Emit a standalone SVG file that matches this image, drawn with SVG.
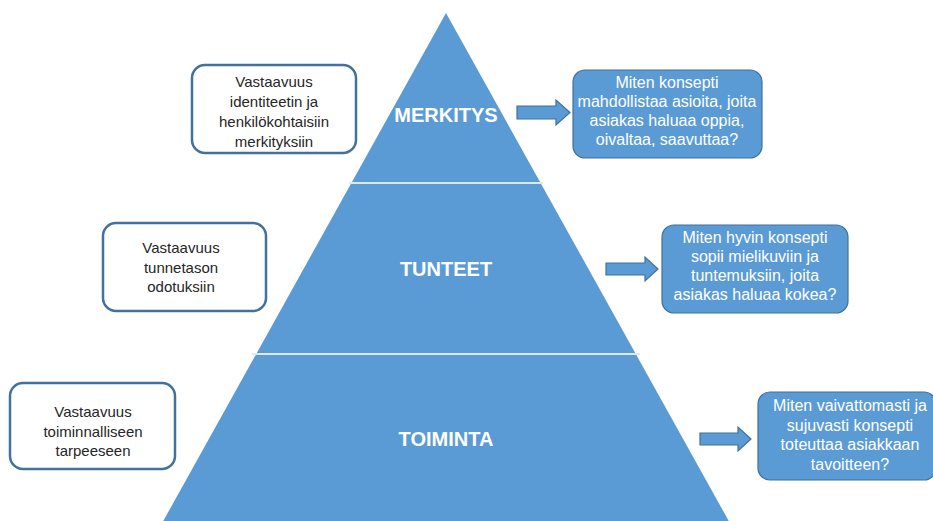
<svg xmlns="http://www.w3.org/2000/svg" width="933" height="521" viewBox="0 0 933 521">
<style>
.tier{fill:#5B9BD5;}
.div{stroke:#DCE9F5;stroke-width:2;}
.tl{font-family:"Liberation Sans",Arial,sans-serif;font-weight:bold;font-size:20px;fill:#FFFFFF;text-anchor:middle;}
.lb{fill:#FFFFFF;stroke:#41719C;stroke-width:2.5;}
.lt{font-family:"Liberation Sans",Arial,sans-serif;font-size:15px;fill:#262626;text-anchor:middle;}
.rb{fill:#5B9BD5;stroke:#41719C;stroke-width:1.2;}
.rt{font-family:"Liberation Sans",Arial,sans-serif;font-size:16px;fill:#FFFFFF;text-anchor:middle;}
.ar{fill:#5B9BD5;stroke:#41719C;stroke-width:1.2;}
</style>
<rect width="933" height="521" fill="#FFFFFF"/>
<g id="pyramid">
<polygon class="tier" points="446,13 736,534 156,534"/>
<line class="div" x1="349" y1="183" x2="543" y2="183"/>
<line class="div" x1="252" y1="354" x2="640" y2="354"/>
</g>
<g id="merkitys"><text class="tl" x="446" y="122">MERKITYS</text></g>
<g id="tunteet"><text class="tl" x="446" y="276">TUNTEET</text></g>
<g id="toiminta"><text class="tl" x="446" y="446">TOIMINTA</text></g>
<g id="left1">
<rect class="lb" x="192" y="65" width="164" height="88" rx="13"/>
<text class="lt" x="274" y="87">Vastaavuus</text>
<text class="lt" x="274" y="107">identiteetin ja</text>
<text class="lt" x="274" y="127">henkilökohtaisiin</text>
<text class="lt" x="274" y="147">merkityksiin</text>
</g>
<g id="left2">
<rect class="lb" x="103" y="223" width="163" height="88" rx="13"/>
<text class="lt" x="181" y="253">Vastaavuus</text>
<text class="lt" x="181" y="273">tunnetason</text>
<text class="lt" x="181" y="292">odotuksiin</text>
</g>
<g id="left3">
<rect class="lb" x="10" y="383" width="165" height="86" rx="13"/>
<text class="lt" x="93" y="417">Vastaavuus</text>
<text class="lt" x="93" y="437">toiminnalliseen</text>
<text class="lt" x="93" y="456">tarpeeseen</text>
</g>
<g id="right1">
<rect class="rb" x="573" y="70" width="189" height="88" rx="12"/>
<text class="rt" x="667" y="88">Miten konsepti</text>
<text class="rt" x="667" y="107">mahdollistaa asioita, joita</text>
<text class="rt" x="667" y="126">asiakas haluaa oppia,</text>
<text class="rt" x="667" y="145">oivaltaa, saavuttaa?</text>
</g>
<g id="right2">
<rect class="rb" x="662" y="225" width="186" height="88" rx="12"/>
<text class="rt" x="755" y="243">Miten hyvin konsepti</text>
<text class="rt" x="755" y="262">sopii mielikuviin ja</text>
<text class="rt" x="755" y="281">tuntemuksiin, joita</text>
<text class="rt" x="755" y="300">asiakas haluaa kokea?</text>
</g>
<g id="right3">
<rect class="rb" x="758" y="392" width="178" height="88" rx="12"/>
<text class="rt" x="850" y="411">Miten vaivattomasti ja</text>
<text class="rt" x="850" y="431">sujuvasti konsepti</text>
<text class="rt" x="850" y="450">toteuttaa asiakkaan</text>
<text class="rt" x="850" y="470">tavoitteen?</text>
</g>
<g id="connectors">
<polygon class="ar" points="517,106 556,106 556,100 570,112.5 556,125 556,119 517,119"/>
<polygon class="ar" points="606,263 645,263 645,257 658,269 645,281 645,275 606,275"/>
<polygon class="ar" points="700,433 738,433 738,427 751,439 738,451 738,445 700,445"/>
</g>
</svg>
